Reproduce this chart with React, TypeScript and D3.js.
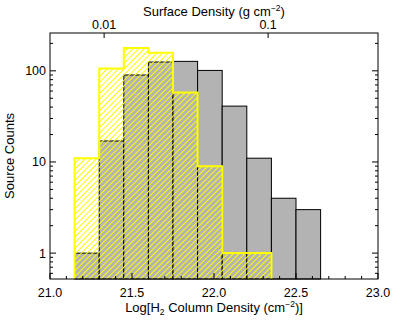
import React, { useEffect, useRef } from 'react'
import * as d3 from 'd3'

// histogram bins in log N(H2), width 0.15 dex
const binEdges = [21.15, 21.3, 21.45, 21.6, 21.75, 21.9, 22.05, 22.2, 22.35, 22.5, 22.65]
const allCounts = [1, 17, 90, 125, 127, 101, 41, 11, 4, 3]
const subsetCounts = [11, 106, 178, 158, 58, 9, 1, 1, 0, 0]

const xTicksMajor = [21.0, 21.5, 22.0, 22.5, 23.0]
const yTicksMajor = [1, 10, 100]
const sigmaTicks = [0.01, 0.1]
// log Sigma = log N + log(2.8 m_H)
const LOG_MU_MH = -23.33

const W = 407
const H = 326
const FONT = '"Liberation Sans", Arial, Helvetica, sans-serif'

export default function App() {
  const svgRef = useRef<SVGSVGElement | null>(null)

  useEffect(() => {
    const svg = d3.select(svgRef.current)
    svg.selectAll('*').remove()

    const left = 50, right = 378, top = 33, bottom = 279

    const x = d3.scaleLinear().domain([21, 23]).range([left, right])
    const y = d3.scaleLog().domain([0.52, 260]).range([bottom, top])
    const yv = (c: number) => (c < 0.52 ? bottom : y(c))

    const defs = svg.append('defs')
    defs.append('pattern')
      .attr('id', 'hatch')
      .attr('patternUnits', 'userSpaceOnUse')
      .attr('width', 4)
      .attr('height', 4)
      .attr('patternTransform', 'rotate(45)')
      .append('line')
      .attr('x1', 0.5).attr('y1', 0).attr('x2', 0.5).attr('y2', 4)
      .attr('stroke', '#ffff00')
      .attr('stroke-width', 1)

    // gray bars (all sources)
    svg.append('g')
      .selectAll('rect')
      .data(allCounts)
      .join('rect')
      .attr('x', (_, i) => x(binEdges[i]))
      .attr('y', d => yv(d))
      .attr('width', (_, i) => x(binEdges[i + 1]) - x(binEdges[i]))
      .attr('height', d => bottom - yv(d))
      .attr('fill', '#b3b3b3')
      .attr('stroke', '#000')
      .attr('stroke-width', 1)

    // yellow hatched step histogram
    const pts: [number, number][] = []
    let last = 0
    subsetCounts.forEach((c, i) => { if (c > 0) last = i })
    pts.push([x(binEdges[0]), bottom])
    for (let i = 0; i <= last; i++) {
      pts.push([x(binEdges[i]), yv(subsetCounts[i])])
      pts.push([x(binEdges[i + 1]), yv(subsetCounts[i])])
    }
    pts.push([x(binEdges[last + 1]), bottom])
    const line = d3.line()

    svg.append('path')
      .attr('d', line(pts) + 'Z')
      .attr('fill', 'url(#hatch)')
      .attr('stroke', 'none')

    svg.append('path')
      .attr('d', line(pts))
      .attr('fill', 'none')
      .attr('stroke', '#ffff00')
      .attr('stroke-width', 2)

    // frame
    svg.append('rect')
      .attr('x', left).attr('y', top)
      .attr('width', right - left).attr('height', bottom - top)
      .attr('fill', 'none')
      .attr('stroke', '#000')
      .attr('stroke-width', 1)

    const ticks = svg.append('g').attr('stroke', '#000').attr('stroke-width', 1)

    // bottom axis ticks
    const xMinor = d3.range(210, 231).map(v => v / 10)
    xMinor.forEach(v => {
      const major = xTicksMajor.some(t => Math.abs(t - v) < 1e-6)
      const len = major ? 6 : 3
      ticks.append('line')
        .attr('x1', x(v)).attr('x2', x(v))
        .attr('y1', bottom).attr('y2', bottom - len)
    })

    // left / right axis ticks
    const yAll: number[] = []
    for (const dec of [0.1, 1, 10, 100]) {
      for (let k = 1; k < 10; k++) {
        const v = dec * k
        if (v >= 0.52 && v <= 260) yAll.push(v)
      }
    }
    yAll.forEach(v => {
      const major = yTicksMajor.includes(Math.round(v * 1000) / 1000)
      const len = major ? 6 : 3
      ticks.append('line')
        .attr('x1', left).attr('x2', left + len)
        .attr('y1', y(v)).attr('y2', y(v))
      ticks.append('line')
        .attr('x1', right).attr('x2', right - len)
        .attr('y1', y(v)).attr('y2', y(v))
    })

    // top axis (surface density)
    const xs = (s: number) => x(Math.log10(s) - LOG_MU_MH)
    sigmaTicks.forEach(s => {
      ticks.append('line')
        .attr('x1', xs(s)).attr('x2', xs(s))
        .attr('y1', top).attr('y2', top + 5)
    })

    const txt = svg.append('g')
      .attr('font-family', FONT)
      .attr('font-size', 12.5)
      .attr('fill', '#000')

    xTicksMajor.forEach(v => {
      txt.append('text')
        .attr('x', x(v)).attr('y', 297)
        .attr('text-anchor', 'middle')
        .text(v.toFixed(1))
    })

    yTicksMajor.forEach(v => {
      txt.append('text')
        .attr('x', 46).attr('y', y(v) + 4.5)
        .attr('text-anchor', 'end')
        .text(String(v))
    })

    sigmaTicks.forEach(s => {
      txt.append('text')
        .attr('x', xs(s)).attr('y', 28.5)
        .attr('text-anchor', 'middle')
        .text(String(s))
    })

    // top title
    const t1 = txt.append('text')
      .attr('x', 214).attr('y', 16)
      .attr('font-size', 13)
      .attr('text-anchor', 'middle')
    t1.append('tspan').text('Surface Density (g cm')
    t1.append('tspan').attr('font-size', 8.5).attr('dy', -5).text('\u22122')
    t1.append('tspan').attr('dy', 5).text(')')

    // bottom title
    const t2 = txt.append('text')
      .attr('x', 214).attr('y', 312)
      .attr('font-size', 13)
      .attr('text-anchor', 'middle')
    t2.append('tspan').text('Log[H')
    t2.append('tspan').attr('font-size', 8.5).attr('dy', 3).text('2')
    t2.append('tspan').attr('dy', -3).text(' Column Density (cm')
    t2.append('tspan').attr('font-size', 8.5).attr('dy', -5).text('\u22122')
    t2.append('tspan').attr('dy', 5).text(')]')

    // y title
    txt.append('text')
      .attr('transform', `translate(14,${(top + bottom) / 2}) rotate(-90)`)
      .attr('font-size', 13)
      .attr('text-anchor', 'middle')
      .text('Source Counts')
  }, [])

  return (
    <div style={{ position: 'fixed', left: 0, top: 0, width: W, height: H, background: '#fff' }}>
      <svg ref={svgRef} width={W} height={H} style={{ display: 'block' }} />
    </div>
  )
}
